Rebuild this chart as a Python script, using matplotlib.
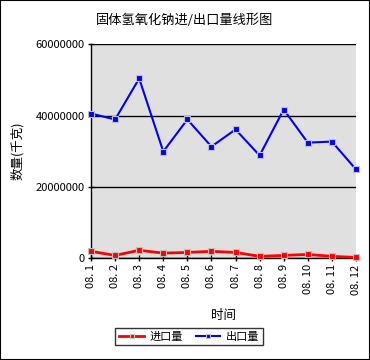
import matplotlib
matplotlib.use("Agg")
import matplotlib.pyplot as plt

plt.rcParams['font.family'] = ['Noto Sans CJK SC', 'DejaVu Sans']

# months and quantities (kg)
months = ["08. 1", "08. 2", "08. 3", "08. 4", "08. 5", "08. 6",
          "08. 7", "08. 8", "08. 9", "08. 10", "08. 11", "08. 12"]
imports = [1900000, 760000, 2200000, 1400000, 1600000, 1900000,
           1600000, 500000, 760000, 1040000, 500000, 200000]
exports = [40570000, 38900000, 50400000, 29900000, 38900000, 31300000,
           36100000, 28800000, 41700000, 32400000, 32700000, 24900000]

fig = plt.figure(figsize=(3.7, 3.6), dpi=100)
ax = fig.add_axes([0.246, 0.283, 0.716, 0.594])
ax.set_facecolor("#e0e0e0")

x = list(range(len(months)))
ax.plot(x, imports, color="#ff0000", lw=2, marker="s", ms=5,
        mfc="#ff0000", mec="#c0c0c0", mew=0.8, label="进口量", clip_on=False, zorder=3)
ax.plot(x, exports, color="#0000ff", lw=1.5, marker="s", ms=5,
        mfc="#0000ff", mec="#c0c0c0", mew=0.8, label="出口量", clip_on=False, zorder=3)

ax.set_xlim(0, len(months) - 1)
ax.set_ylim(0, 60000000)
ax.set_yticks([0, 20000000, 40000000, 60000000])
ax.set_yticklabels(["0", "20000000", "40000000", "60000000"], fontsize=8)
ax.set_xticks(x)
ax.set_xticklabels(months, rotation=90, va="top", fontsize=8)
ax.yaxis.grid(True, color="black", lw=1)
ax.set_axisbelow(True)
ax.tick_params(direction="inout", length=5, width=1, pad=2)
for s in ["top", "right"]:
    ax.spines[s].set_visible(False)
for s in ["left", "bottom"]:
    ax.spines[s].set_linewidth(1)

fig.text(0.5, 0.945, "固体氢氧化钠进/出口量线形图", fontsize=9.5,
         ha="center", va="center")
ax.set_ylabel("数量(千克)", fontsize=9, labelpad=8)
ax.set_xlabel("时间", fontsize=9, labelpad=10)

leg = fig.legend(loc="lower left", bbox_to_anchor=(0.297, 0.025), ncol=2,
                 fontsize=8, frameon=True, fancybox=False, edgecolor="black",
                 handlelength=2.2, columnspacing=1.2, borderpad=0.35,
                 handletextpad=0.5, markerscale=0.6)
leg.get_frame().set_linewidth(1)

fig.patches.append(plt.Rectangle((0, 0), 1, 1, transform=fig.transFigure,
                                 fill=False, edgecolor="black", lw=1.5))

fig.savefig("out.png", dpi=100)
